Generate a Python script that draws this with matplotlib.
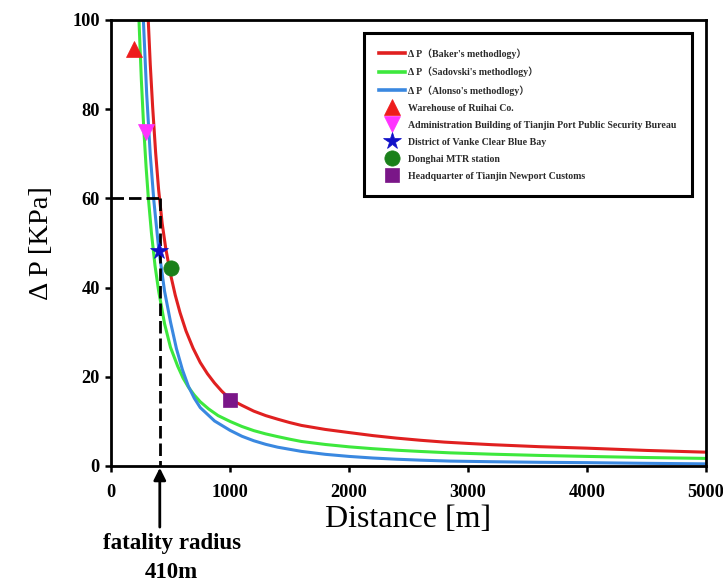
import matplotlib
matplotlib.use('Agg')
import matplotlib.pyplot as plt
import matplotlib.transforms as mtransforms

# ---------------- data ----------------
baker_x = [313, 330, 350, 375, 400, 430, 460, 500, 540, 580, 630, 690, 750, 810,
           870, 930, 1000, 1100, 1200, 1300, 1400, 1500, 1600, 1800, 2000, 2200,
           2400, 2600, 2800, 3000, 3200, 3600, 4000, 4500, 5000]
baker_y = [100, 90, 80.5, 70.3, 62, 54.4, 48.8, 43.0, 38.3, 34.4, 30.3, 26.4, 23.2,
           20.7, 18.6, 16.8, 15.0, 13.6, 12.3, 11.3, 10.5, 9.75, 9.1, 8.2, 7.5,
           6.82, 6.25, 5.77, 5.36, 5.06, 4.78, 4.33, 4.0, 3.49, 3.1]

sadovski_x = [235, 255, 275, 295, 313, 340, 370, 400, 450, 500, 560, 606, 650,
              700, 750, 820, 900, 1000, 1100, 1200, 1300, 1400, 1500, 1600, 1800,
              2000, 2200, 2400, 2600, 2850, 3200, 3600, 4000, 4500, 5000]
sadovski_y = [100, 86.6, 75.8, 67.0, 60.4, 52.2, 44.9, 39.3, 31.9, 26.6, 22.4, 19.7,
              17.7, 15.9, 14.4, 12.8, 11.3, 10.0, 8.86, 7.93, 7.2, 6.59, 6.02, 5.5,
              4.83, 4.3, 3.88, 3.54, 3.26, 2.95, 2.65, 2.37, 2.15, 1.9, 1.7]

alonso_x = [272, 300, 330, 360, 400, 450, 500, 550, 600, 650, 700, 750, 870, 1000,
            1100, 1200, 1300, 1400, 1600, 1800, 2000, 2200, 2400, 2600, 2850, 3200,
            3600, 4000, 4500, 5000]
alonso_y = [100, 83.3, 69.8, 59.5, 48.9, 39.2, 32.3, 26.3, 21.6, 17.9, 15.2, 13.1,
            10.1, 8.0, 6.67, 5.66, 4.86, 4.22, 3.28, 2.62, 2.15, 1.79, 1.52, 1.31,
            1.1, 0.96, 0.83, 0.75, 0.6, 0.48]

curve_labels = ["Δ P（Baker's methodlogy）",
                "Δ P（Sadovski's methodlogy）",
                "Δ P（Alonso's methodlogy）"]

site_names = ["Warehouse of Ruihai Co.",
              "Administration Building of Tianjin Port Public Security Bureau",
              "District of Vanke Clear Blue Bay",
              "Donghai MTR station",
              "Headquarter of Tianjin Newport Customs"]
site_x = [195, 295, 400, 500, 1000]
site_y = [93.5, 75, 48.3, 44.3, 14.7]

fatality_radius = 410
fatality_pressure = 60

x_ticks = [0, 1000, 2000, 3000, 4000, 5000]
y_ticks = [0, 20, 40, 60, 80, 100]

# ---------------- styling ----------------
serif = ['Liberation Serif', 'Noto Sans CJK SC', 'DejaVu Sans']
plt.rcParams['font.family'] = serif

curve_colors = ['#e02020', '#3de83d', '#3a88e0']
site_markers = ['^', 'v', '*', 'o', 's']
site_colors = ['#ee1c1c', '#ff33ff', '#1010c8', '#1a801a', '#7a1688']
site_sizes = [11, 11, 13, 11, 10]

fig = plt.figure(figsize=(7.23, 5.83), dpi=100)
ax = fig.add_axes([111 / 723, 1 - 466 / 583, 595 / 723, 446 / 583])

handles = []
for xs, ys, c, lab in zip([baker_x, sadovski_x, alonso_x],
                          [baker_y, sadovski_y, alonso_y],
                          curve_colors, curve_labels):
    h, = ax.plot(xs, ys, color=c, lw=2.2, zorder=2, label=lab)
    handles.append(h)

# fatality radius guide lines
ax.plot([0, fatality_radius], [fatality_pressure, fatality_pressure],
        color='k', lw=2, dashes=(4.5, 1.8), zorder=3, clip_on=False)
ax.plot([fatality_radius, fatality_radius], [fatality_pressure, 0],
        color='k', lw=2, dashes=(4.5, 1.8), zorder=3, clip_on=False)

for x, y, m, c, s, name in zip(site_x, site_y, site_markers, site_colors,
                               site_sizes, site_names):
    h, = ax.plot([x], [y], marker=m, ms=s, color=c, ls='none', zorder=4,
                 label=name, markeredgewidth=0.5, markeredgecolor=c)
    handles.append(h)

ax.set_xlim(0, 5000)
ax.set_ylim(0, 100)
ax.set_xticks(x_ticks)
ax.set_yticks(y_ticks)
for sp in ax.spines.values():
    sp.set_linewidth(2.0)
ax.tick_params(axis='both', direction='out', length=4.5, width=1.8,
               labelsize=13.2)
ax.tick_params(axis='x', pad=8.5)
ax.tick_params(axis='y', pad=3.5)
for lab in ax.get_xticklabels() + ax.get_yticklabels():
    lab.set_fontweight('bold')
    lab.set_family(serif)

ax.set_xlabel('Distance [m]', fontsize=23, labelpad=3)
ax.set_ylabel('Δ P [KPa]', fontsize=20.5, labelpad=13)

leg = ax.legend(handles=handles, loc='upper right',
                bbox_to_anchor=(0.976, 0.971), frameon=True, fancybox=False,
                edgecolor='k', framealpha=1,
                prop={'family': serif, 'weight': 'bold', 'size': 7.15},
                handlelength=2.6, handletextpad=0.3, labelspacing=0.8,
                borderpad=1.55, borderaxespad=0)
leg.get_frame().set_linewidth(2.2)
for t in leg.get_texts():
    t.set_color('#2a2a2a')
for lh in leg.get_lines()[:3]:
    lh.set_linewidth(2.6)

# arrow and annotation for fatality radius
ax.annotate('', xy=(fatality_radius, -0.004),
            xycoords=('data', 'axes fraction'),
            xytext=(fatality_radius, -0.137),
            textcoords=('data', 'axes fraction'),
            arrowprops=dict(arrowstyle='-|>', color='k', lw=2,
                            mutation_scale=18, shrinkA=0, shrinkB=0),
            annotation_clip=False)
trans = mtransforms.blended_transform_factory(ax.transData, ax.transAxes)
ax.text(515, -0.173, 'fatality radius', transform=trans, ha='center',
        va='center', fontsize=16.5, fontweight='bold')
ax.text(505, -0.238, f'{fatality_radius}m', transform=trans, ha='center',
        va='center', fontsize=16.5, fontweight='bold')

fig.savefig('out.png', dpi=100)
